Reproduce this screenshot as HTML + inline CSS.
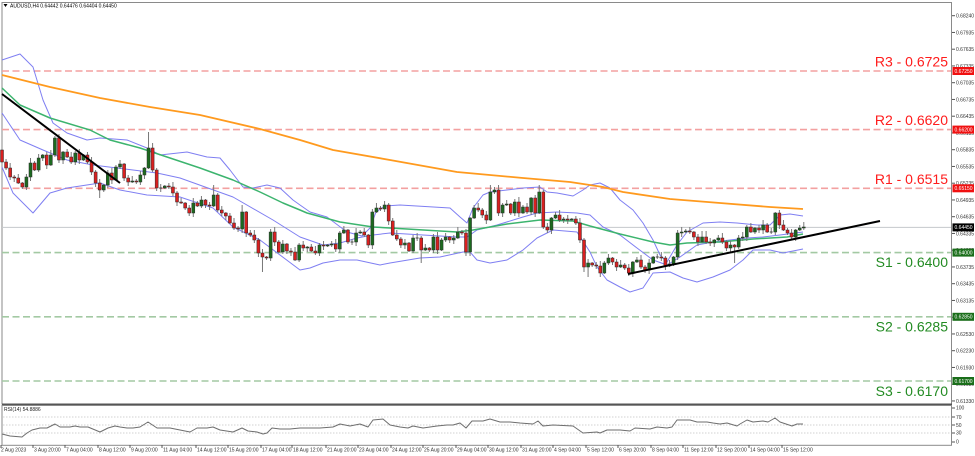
<!DOCTYPE html>
<html><head><meta charset="utf-8"><style>
html,body{margin:0;padding:0;background:#fff;}
svg{display:block;font-family:"Liberation Sans",sans-serif;}
</style></head><body>
<svg id="s" width="975" height="456" viewBox="0 0 975 456" xmlns="http://www.w3.org/2000/svg">
<rect width="975" height="456" fill="#fff"/>
<!-- frames -->
<rect x="2" y="2.5" width="949.5" height="401.5" fill="none" stroke="#8a8a8a" stroke-width="1"/>
<line x1="2" y1="404.5" x2="952" y2="404.5" stroke="#555" stroke-width="2"/>
<rect x="2" y="405.5" width="949.5" height="39.8" fill="none" stroke="#8a8a8a" stroke-width="1"/>

<!-- S/R dashed lines -->
<g stroke-width="1.6" stroke-dasharray="7 3.5" fill="none">
<line x1="2" y1="71" x2="951" y2="71" stroke="#f3a0a0"/>
<line x1="2" y1="129.6" x2="951" y2="129.6" stroke="#f3a0a0"/>
<line x1="2" y1="188.3" x2="951" y2="188.3" stroke="#f3a0a0"/>
<line x1="2" y1="252.6" x2="951" y2="252.6" stroke="#a3c9a3"/>
<line x1="2" y1="316.8" x2="951" y2="316.8" stroke="#a3c9a3"/>
<line x1="2" y1="381" x2="951" y2="381" stroke="#a3c9a3"/>
</g>
<!-- current price line -->
<line x1="2" y1="227.4" x2="951" y2="227.4" stroke="#c4c8cc" stroke-width="1"/>

<!-- Bollinger bands -->
<g fill="none" stroke="#7f7ff2" stroke-width="1" stroke-linejoin="round">
<polyline points="2,60 20,54 33,67 43,100 53,123 67,133 87,140 100,138 127,140 147,148 160,155 187,152 207,157 220,158 230,170 243,187 253,188 267,185 280,188 293,200 300,205 310,212 327,217 347,232 362,236 370,228 376,212 385,206 400,205 450,208 460,217 467,223 473,208 483,195 490,192 523,188 540,187 547,192 557,193 573,196 583,190 590,185 600,183 610,188 620,200 633,210 643,223 653,240 660,255 667,262 677,245 687,232 703,223 720,222 737,223 757,225 770,225 780,215 790,214 803,216"/>
<polyline points="2,113 20,140 43,150 67,160 93,165 133,170 157,173 180,178 233,197 273,220 300,237 323,245 340,243 357,238 373,235 390,233 423,235 457,237 467,237 477,230 497,225 523,217 537,213 557,212 577,213 590,215 603,227 620,235 637,248 653,260 667,265 680,257 697,245 713,242 730,240 747,238 763,237 780,235 803,232"/>
<polyline points="2,167 13,193 33,213 50,193 67,188 100,183 120,190 147,195 180,197 213,208 233,227 260,240 300,270 310,268 323,263 340,260 357,260 380,265 390,263 420,258 440,257 463,252 470,252 477,260 490,263 507,260 523,250 537,238 543,235 553,230 577,232 590,252 597,267 607,280 620,287 630,292 643,288 653,273 670,272 683,278 697,282 713,277 730,270 743,260 753,250 770,250 783,253 803,249"/>
</g>
<!-- MAs -->
<polyline fill="none" stroke="#3cb46e" stroke-width="1.5" stroke-linejoin="round" points="2,88 20,105 50,118 90,130 110,140 140,148 170,158 200,168 233,180 260,192 283,203 300,210 307,213 340,222 373,227 407,229 440,231 457,232 473,230 507,224 540,220 573,221 590,226 620,234 653,242 670,245 687,243 720,242 753,239 787,237 803,234"/>
<polyline fill="none" stroke="#ff9a1e" stroke-width="1.8" stroke-linejoin="round" points="2,75 50,87 100,98 150,107 200,115 260,129 300,140 333,150 390,160 457,172 523,178 570,182 603,187 623,192 670,199 720,203 770,207 803,209"/>

<g id="candles"></g>

<!-- trendlines -->
<line x1="2" y1="94" x2="120" y2="183" stroke="#000" stroke-width="2"/>
<line x1="628" y1="274" x2="880" y2="221" stroke="#000" stroke-width="2"/>

<!-- big labels -->
<g font-size="14" text-anchor="end">
<text x="948" y="66.5" fill="#ff1c1c">R3 - 0.6725</text>
<text x="948" y="125" fill="#ff1c1c">R2 - 0.6620</text>
<text x="948" y="184" fill="#ff1c1c">R1 - 0.6515</text>
<text x="948" y="267" fill="#238b23">S1 - 0.6400</text>
<text x="948" y="331.5" fill="#238b23">S2 - 0.6285</text>
<text x="948" y="396" fill="#238b23">S3 - 0.6170</text>
</g>

<!-- header -->
<polygon points="3.5,4 7.5,4 5.5,7" fill="#000"/>
<text x="10" y="7.5" font-size="5" fill="#000">AUDUSD,H4  0.64442 0.64476 0.64404 0.64450</text>

<!-- price axis -->
<g stroke="#555" stroke-width="1">
<line x1="952" y1="15.7" x2="955" y2="15.7"/><line x1="952" y1="32.45" x2="955" y2="32.45"/><line x1="952" y1="49.2" x2="955" y2="49.2"/><line x1="952" y1="65.95" x2="955" y2="65.95"/><line x1="952" y1="82.7" x2="955" y2="82.7"/><line x1="952" y1="99.45" x2="955" y2="99.45"/><line x1="952" y1="116.2" x2="955" y2="116.2"/><line x1="952" y1="132.95" x2="955" y2="132.95"/><line x1="952" y1="149.7" x2="955" y2="149.7"/><line x1="952" y1="166.45" x2="955" y2="166.45"/><line x1="952" y1="183.2" x2="955" y2="183.2"/><line x1="952" y1="199.95" x2="955" y2="199.95"/><line x1="952" y1="216.7" x2="955" y2="216.7"/><line x1="952" y1="233.45" x2="955" y2="233.45"/><line x1="952" y1="250.2" x2="955" y2="250.2"/><line x1="952" y1="266.95" x2="955" y2="266.95"/><line x1="952" y1="283.7" x2="955" y2="283.7"/><line x1="952" y1="300.45" x2="955" y2="300.45"/><line x1="952" y1="317.2" x2="955" y2="317.2"/><line x1="952" y1="333.95" x2="955" y2="333.95"/><line x1="952" y1="350.7" x2="955" y2="350.7"/><line x1="952" y1="367.45" x2="955" y2="367.45"/><line x1="952" y1="384.2" x2="955" y2="384.2"/><line x1="952" y1="400.95" x2="955" y2="400.95"/>
</g>
<g font-size="5" fill="#333">
<text x="956" y="17.5">0.68240</text><text x="956" y="34.3">0.67935</text><text x="956" y="51">0.67635</text><text x="956" y="67.8">0.67335</text><text x="956" y="84.5">0.67035</text><text x="956" y="101.3">0.66735</text><text x="956" y="118">0.66435</text><text x="956" y="134.8">0.66135</text><text x="956" y="151.5">0.65835</text><text x="956" y="168.3">0.65535</text><text x="956" y="185">0.65235</text><text x="956" y="201.8">0.64935</text><text x="956" y="218.5">0.64635</text><text x="956" y="235.3">0.64335</text><text x="956" y="252">0.64035</text><text x="956" y="268.8">0.63735</text><text x="956" y="285.5">0.63435</text><text x="956" y="302.3">0.63135</text><text x="956" y="319">0.62835</text><text x="956" y="335.8">0.62530</text><text x="956" y="352.5">0.62230</text><text x="956" y="369.3">0.61930</text><text x="956" y="386">0.61630</text><text x="956" y="402.8">0.61330</text>
</g>
<!-- tags -->
<g font-size="5" fill="#fff">
<rect x="952.5" y="67" width="21.5" height="8" fill="#f01010"/><text x="954.5" y="72.8">0.67250</text>
<rect x="952.5" y="125.6" width="21.5" height="8" fill="#f01010"/><text x="954.5" y="131.4">0.66200</text>
<rect x="952.5" y="184.3" width="21.5" height="8" fill="#f01010"/><text x="954.5" y="190.1">0.65150</text>
<rect x="952.5" y="223.4" width="21.5" height="8" fill="#000"/><text x="954.5" y="229.2">0.64450</text>
<rect x="952.5" y="248.6" width="21.5" height="8" fill="#1a6e1a"/><text x="954.5" y="254.4">0.64000</text>
<rect x="952.5" y="312.8" width="21.5" height="8" fill="#1a6e1a"/><text x="954.5" y="318.6">0.62850</text>
<rect x="952.5" y="377" width="21.5" height="8" fill="#1a6e1a"/><text x="954.5" y="382.8">0.61700</text>
</g>

<!-- RSI panel -->
<g stroke="#c2c2c2" stroke-width="0.8" stroke-dasharray="1.5 1.5">
<line x1="3" y1="417" x2="951" y2="417"/>
<line x1="3" y1="425" x2="951" y2="425"/>
<line x1="3" y1="433" x2="951" y2="433"/>
</g>
<text x="4" y="410.8" font-size="5" fill="#222">RSI(14) 54.8886</text>
<polyline fill="none" stroke="#6e6e6e" stroke-width="1" stroke-linejoin="round" points="2,434 10,436 22,437 27,433 32,430 40,428 47,428 55,424 60,427 70,427 75,426 80,427 88,427 100,432 108,428 115,426 120,427 127,428 133,428 140,427 148,422 157,428 170,428 180,430 190,432 197,428 207,428 213,427 220,430 233,432 242,428 248,431 257,432 263,434 267,433 272,428 280,429 290,429 300,428 313,428 320,428 333,427 340,424 350,426 360,424 368,427 373,420 383,419 390,425 400,427 408,428 413,426 423,428 430,427 437,426 447,425 453,425 460,423 466,428 472,421 483,421 490,419 500,422 510,422 520,423 533,424 538,421 543,426 553,425 573,426 583,433 597,432 600,433 607,430 620,430 630,431 635,428 650,429 657,427 667,428 672,427 677,420 690,420 697,422 707,422 713,423 720,424 727,423 737,426 740,424 747,420 753,422 763,421 768,422 775,418 780,422 792,426 797,424 803,424"/>
<g stroke="#555" stroke-width="1">
<line x1="952" y1="408" x2="955" y2="408"/><line x1="952" y1="417" x2="955" y2="417"/><line x1="952" y1="425" x2="955" y2="425"/><line x1="952" y1="433" x2="955" y2="433"/><line x1="952" y1="442" x2="955" y2="442"/>
</g>
<g font-size="5" fill="#333">
<text x="956" y="409.5">100</text><text x="956" y="418.8">70</text><text x="956" y="426.8">50</text><text x="956" y="434.5">30</text><text x="956" y="443.5">0</text>
</g>

<!-- time axis -->
<g font-size="5" fill="#333">
<text x="1" y="451.5">2 Aug 2023</text>
<text x="34" y="451.5">3 Aug 20:00</text>
<text x="66" y="451.5">7 Aug 04:00</text>
<text x="99" y="451.5">8 Aug 12:00</text>
<text x="131" y="451.5">9 Aug 20:00</text>
<text x="163" y="451.5">11 Aug 04:00</text>
<text x="197" y="451.5">14 Aug 12:00</text>
<text x="229" y="451.5">15 Aug 20:00</text>
<text x="262" y="451.5">17 Aug 04:00</text>
<text x="293" y="451.5">18 Aug 12:00</text>
<text x="327" y="451.5">21 Aug 20:00</text>
<text x="359" y="451.5">23 Aug 04:00</text>
<text x="392" y="451.5">24 Aug 12:00</text>
<text x="424" y="451.5">25 Aug 20:00</text>
<text x="457" y="451.5">29 Aug 04:00</text>
<text x="489" y="451.5">30 Aug 12:00</text>
<text x="522" y="451.5">31 Aug 20:00</text>
<text x="554" y="451.5">4 Sep 04:00</text>
<text x="587" y="451.5">5 Sep 12:00</text>
<text x="619" y="451.5">6 Sep 20:00</text>
<text x="652" y="451.5">8 Sep 04:00</text>
<text x="684" y="451.5">11 Sep 12:00</text>
<text x="717" y="451.5">12 Sep 20:00</text>
<text x="750" y="451.5">14 Sep 04:00</text>
<text x="783" y="451.5">15 Sep 12:00</text>
</g>
<g stroke="#555" stroke-width="1">
<line x1="1" y1="445" x2="1" y2="448"/><line x1="33" y1="445" x2="33" y2="448"/><line x1="65" y1="445" x2="65" y2="448"/><line x1="98" y1="445" x2="98" y2="448"/><line x1="130" y1="445" x2="130" y2="448"/><line x1="162" y1="445" x2="162" y2="448"/><line x1="196" y1="445" x2="196" y2="448"/><line x1="228" y1="445" x2="228" y2="448"/><line x1="261" y1="445" x2="261" y2="448"/><line x1="292" y1="445" x2="292" y2="448"/><line x1="326" y1="445" x2="326" y2="448"/><line x1="358" y1="445" x2="358" y2="448"/><line x1="391" y1="445" x2="391" y2="448"/><line x1="423" y1="445" x2="423" y2="448"/><line x1="456" y1="445" x2="456" y2="448"/><line x1="488" y1="445" x2="488" y2="448"/><line x1="521" y1="445" x2="521" y2="448"/><line x1="553" y1="445" x2="553" y2="448"/><line x1="586" y1="445" x2="586" y2="448"/><line x1="618" y1="445" x2="618" y2="448"/><line x1="651" y1="445" x2="651" y2="448"/><line x1="683" y1="445" x2="683" y2="448"/><line x1="716" y1="445" x2="716" y2="448"/><line x1="749" y1="445" x2="749" y2="448"/><line x1="782" y1="445" x2="782" y2="448"/>
</g>
</svg>
<script>
(function(){
var C=[162,168,177,178,183,187,177,163,170,158,
155,165,155,138,160,152,157,162,153,160,
155,162,172,183,190,185,173,180,167,164,
178,182,181,182,175,168,148,170,188,188,
186,187,193,202,203,208,213,203,206,200,
205,206,195,210,213,216,223,228,229,212,
233,235,240,253,257,258,232,242,252,244,
251,252,260,245,248,247,251,253,245,246,
245,244,249,233,230,242,242,233,232,235,
245,212,208,209,205,221,235,239,245,243,
251,238,238,250,248,250,237,250,240,237,
240,238,232,233,252,218,208,210,215,220,
192,190,213,205,204,213,202,213,207,212,
198,213,192,227,230,218,215,220,219,220,
219,223,240,267,263,265,266,273,263,258,
262,267,265,268,273,262,260,267,270,263,
257,257,258,266,264,257,233,232,231,232,
237,242,237,242,243,240,238,242,248,245,
247,238,237,227,232,228,230,225,232,232,
213,225,230,233,237,230,228,227];
var W={24:[0,198],36:[132,0],52:[185,0],59:[205,0],60:[0,237],64:[0,272],95:[203,0],103:[0,263],114:[0,256],120:[185,0],132:[185,0],144:[0,277],180:[0,263],143:[0,272],172:[231,0],173:[231,0]};
var o=150,s='';
for(var i=0;i<C.length;i++){
 var c=C[i],x=2+i*4.07,t=Math.min(o,c),b=Math.max(o,c);
 var wt=t-(1+(i*7)%5),wb=b+(1+(i*5)%4);
 if(W[i]){if(W[i][0])wt=W[i][0];if(W[i][1])wb=W[i][1];}
 s+='<line x1="'+x.toFixed(2)+'" y1="'+wt+'" x2="'+x.toFixed(2)+'" y2="'+wb+'" stroke="#777" stroke-width="1"/>';
 var h=b-t;
 if(h<1){s+='<line x1="'+(x-1.5).toFixed(2)+'" y1="'+t+'" x2="'+(x+1.5).toFixed(2)+'" y2="'+t+'" stroke="#444" stroke-width="1"/>';}
 else{var col=c<o?'#1c6a1f':'#d92020';
 s+='<rect x="'+(x-1.5).toFixed(2)+'" y="'+t+'" width="3" height="'+h+'" fill="'+col+'" stroke="#2a2a2a" stroke-width="0.5"/>';}
 o=c;
}
document.getElementById('candles').insertAdjacentHTML('beforeend',s);
})();
</script>
</body></html>
